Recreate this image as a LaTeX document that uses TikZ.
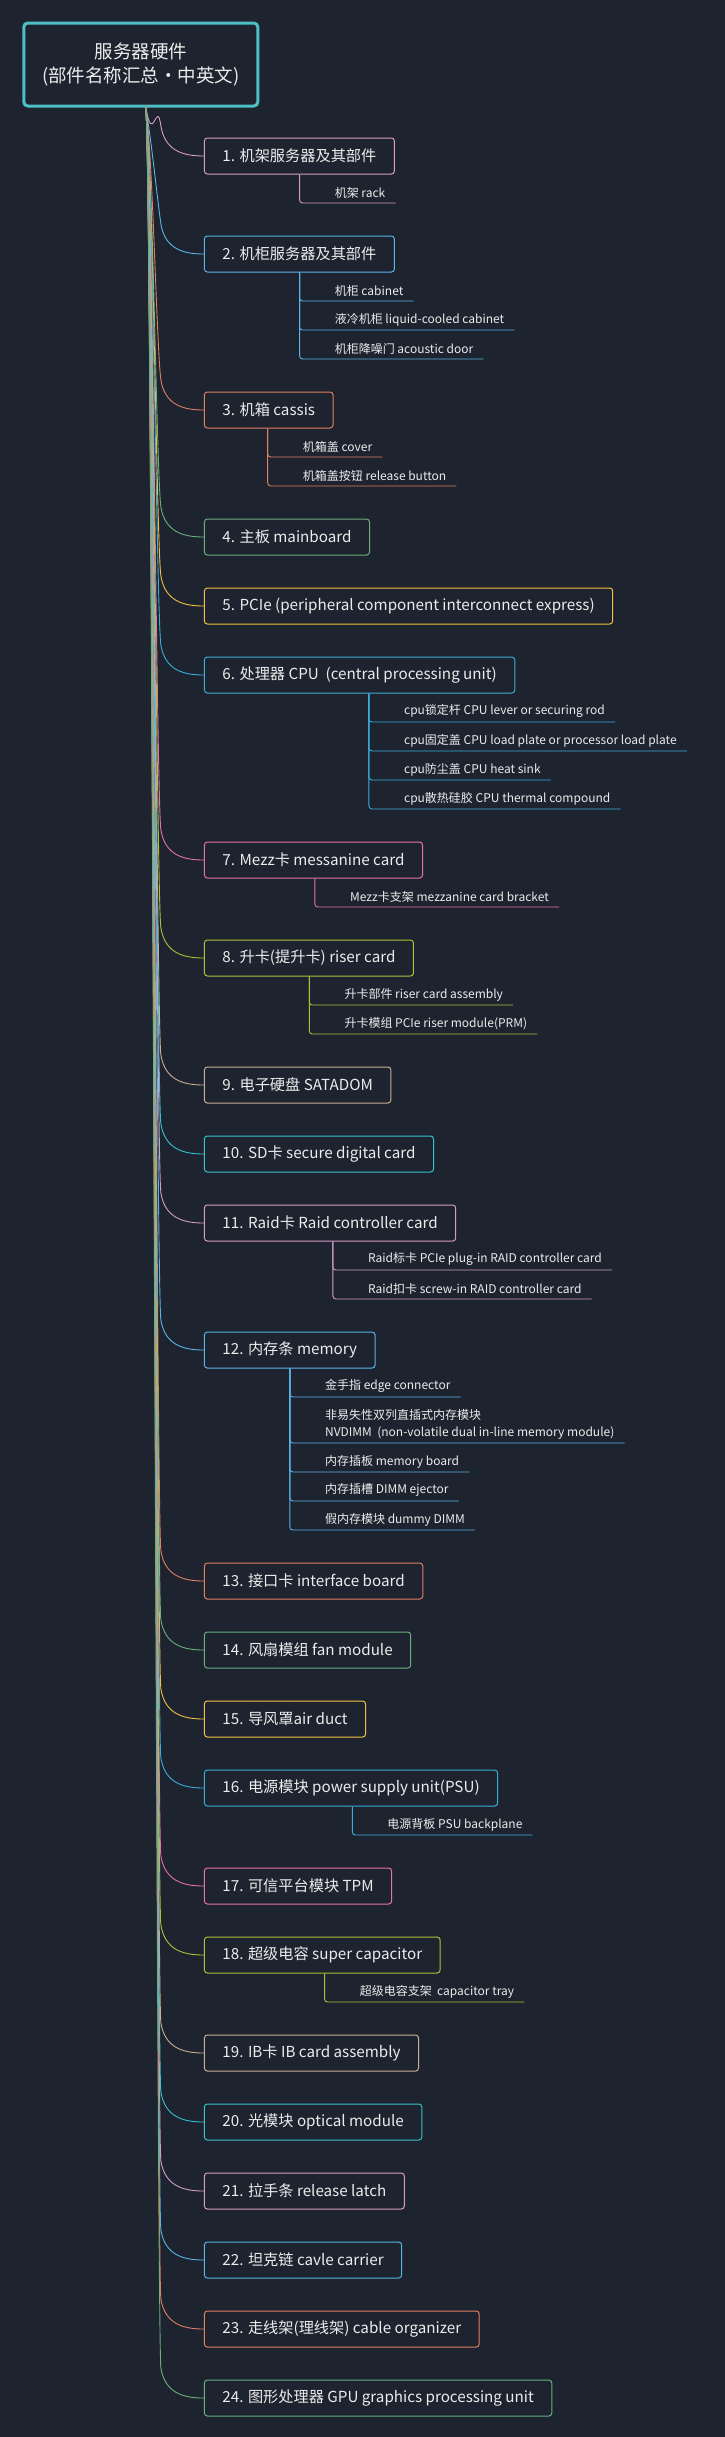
\documentclass[tikz,border=0pt]{standalone}
\usepackage{fontspec}
\setmainfont{Noto Sans CJK SC}
\definecolor{bg}{HTML}{1E2330}
\definecolor{tx}{HTML}{ECECEC}
\definecolor{cPink}{HTML}{D89CC8}
\definecolor{cBlue}{HTML}{5AB4E8}
\definecolor{cOrange}{HTML}{E08060}
\definecolor{cGreen}{HTML}{6AB07A}
\definecolor{cYellow}{HTML}{F0C040}
\definecolor{cSky}{HTML}{3AAED8}
\definecolor{cRose}{HTML}{E872A6}
\definecolor{cLime}{HTML}{B0C034}
\definecolor{cTan}{HTML}{C8B090}
\definecolor{cTeal}{HTML}{34C4CC}
\definecolor{cRoot}{HTML}{4CC0C4}
\begin{document}
\begin{tikzpicture}[x=1.387pt,y=-1pt,
  lv/.style={draw,rounded corners=3pt,line width=1pt,anchor=west,minimum height=36pt,inner xsep=18pt,text=tx,font=\fontsize{15.2}{18}\selectfont},
  chn/.style={inner xsep=0pt,inner ysep=4pt,text=tx,font=\fontsize{12}{16.5}\selectfont,align=left},
  cn/.style={line width=0.9pt}]
\fill[bg] (0,0) rectangle (522.7,2437);
\useasboundingbox (0,0) rectangle (522.7,2437);
\node[draw=cRoot,line width=3pt,rounded corners=4pt,minimum width=234pt,minimum height=83pt,text=tx,align=center,font=\fontsize{18.5}{24}\selectfont] (root) at (101.5,64.5) {服务器硬件\\(部件名称汇总·中英文)};
\coordinate (rs) at (105,106);
\newcommand\lvl[4]{%
  \draw[cn,#3] (rs) .. controls (110,150) and (113,{#2-60}) .. (116,{#2-30}) .. controls (119,{#2-5}) and (132,#2) .. (147,#2);
  \node[lv,draw=#3] (#1) at (147,#2) {#4};}
\newcommand\chd[6]{%
  \node[chn,anchor=south west] (#1) at (#3,#4) {\hspace*{35pt}#6\hspace*{10pt}};
  \draw[cn,#5,rounded corners=3pt] (#2.south -| #1.west) -- (#1.south west) -- (#1.south east);}
\lvl{b1}{156}{cPink}{1. 机架服务器及其部件}
\lvl{b2}{254}{cBlue}{2. 机柜服务器及其部件}
\lvl{b3}{410}{cOrange}{3. 机箱 cassis}
\lvl{b4}{537}{cGreen}{4. 主板 mainboard}
\lvl{b5}{606}{cYellow}{5. PCIe (peripheral component interconnect express)}
\lvl{b6}{675}{cSky}{6. 处理器 CPU\ \ (central processing unit)}
\lvl{b7}{860}{cRose}{7. Mezz卡 messanine card}
\lvl{b8}{958}{cLime}{8. 升卡(提升卡) riser card}
\lvl{b9}{1085}{cTan}{9. 电子硬盘 SATADOM}
\lvl{b10}{1154}{cTeal}{10. SD卡 secure digital card}
\lvl{b11}{1223}{cPink}{11. Raid卡 Raid controller card}
\lvl{b12}{1350}{cBlue}{12. 内存条 memory}
\lvl{b13}{1581}{cOrange}{13. 接口卡 interface board}
\lvl{b14}{1650}{cGreen}{14. 风扇模组 fan module}
\lvl{b15}{1719}{cYellow}{15. 导风罩air duct}
\lvl{b16}{1788}{cSky}{16. 电源模块 power supply unit(PSU)}
\lvl{b17}{1886}{cRose}{17. 可信平台模块 TPM}
\lvl{b18}{1955}{cLime}{18. 超级电容 super capacitor}
\lvl{b19}{2053}{cTan}{19. IB卡 IB card assembly}
\lvl{b20}{2122}{cTeal}{20. 光模块 optical module}
\lvl{b21}{2191}{cPink}{21. 拉手条 release latch}
\lvl{b22}{2260}{cBlue}{22. 坦克链 cavle carrier}
\lvl{b23}{2329}{cOrange}{23. 走线架(理线架) cable organizer}
\lvl{b24}{2398}{cGreen}{24. 图形处理器 GPU graphics processing unit}
\chd{c1a}{b1}{216}{203}{cPink}{机架 rack}
\chd{c2a}{b2}{216}{301}{cBlue}{机柜 cabinet}
\chd{c2b}{b2}{216}{330}{cBlue}{液冷机柜 liquid-cooled cabinet}
\chd{c2c}{b2}{216}{359}{cBlue}{机柜降噪门 acoustic door}
\chd{c3a}{b3}{193}{457}{cOrange}{机箱盖 cover}
\chd{c3b}{b3}{193}{486}{cOrange}{机箱盖按钮 release button}
\chd{c6a}{b6}{266}{722}{cSky}{cpu锁定杆 CPU lever or securing rod}
\chd{c6b}{b6}{266}{751}{cSky}{cpu固定盖 CPU load plate or processor load plate}
\chd{c6c}{b6}{266}{780}{cSky}{cpu防尘盖 CPU heat sink}
\chd{c6d}{b6}{266}{809}{cSky}{cpu散热硅胶 CPU thermal compound}
\chd{c7a}{b7}{227}{907}{cRose}{Mezz卡支架 mezzanine card bracket}
\chd{c8a}{b8}{223}{1005}{cLime}{升卡部件 riser card assembly}
\chd{c8b}{b8}{223}{1034}{cLime}{升卡模组 PCIe riser module(PRM)}
\chd{c11a}{b11}{240}{1270}{cPink}{Raid标卡 PCIe plug-in RAID controller card}
\chd{c11b}{b11}{240}{1299}{cPink}{Raid扣卡 screw-in RAID controller card}
\chd{c12a}{b12}{209}{1397}{cBlue}{金手指 edge connector}
\chd{c12b}{b12}{209}{1443}{cBlue}{非易失性双列直插式内存模块\\\hspace*{35pt}NVDIMM\ \ (non-volatile dual in-line memory module)}
\chd{c12c}{b12}{209}{1472}{cBlue}{内存插板 memory board}
\chd{c12d}{b12}{209}{1501}{cBlue}{内存插槽 DIMM ejector}
\chd{c12e}{b12}{209}{1530}{cBlue}{假内存模块 dummy DIMM}
\chd{c16a}{b16}{254}{1835}{cSky}{电源背板 PSU backplane}
\chd{c18a}{b18}{234}{2002}{cLime}{超级电容支架\ \ capacitor tray}
\end{tikzpicture}
\end{document}
